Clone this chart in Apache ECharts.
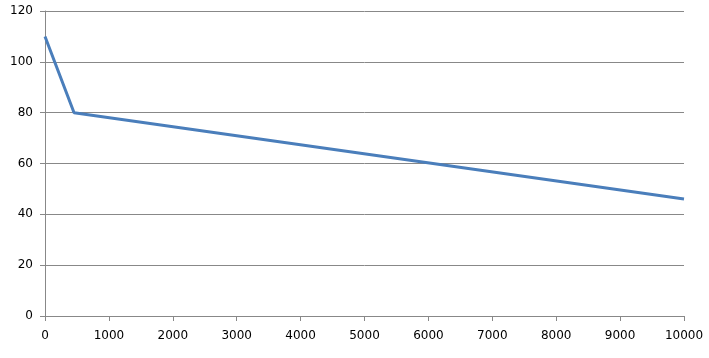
<!DOCTYPE html>
<html>
<head>
<meta charset="utf-8">
<script src="https://cdn.jsdelivr.net/npm/echarts@6/dist/echarts.min.js"></script>
<style>
  html, body { margin: 0; padding: 0; background: #fff; }
  #chart { width: 709px; height: 358px; }
</style>
</head>
<body>
<div id="chart"></div>
<script>
// 数据点
const xValues = [0, 455, 10000];
const yValues = [110, 80, 46];

const chart = echarts.init(document.getElementById('chart'));

const option = {
    animation: false,
    grid: {
        left: 45,
        right: 25,
        top: 11,
        bottom: 42
    },
    xAxis: {
        type: 'value',
        min: 0,
        max: 10000,
        interval: 1000,
        axisLine: { lineStyle: { color: '#888', width: 1 } },
        axisTick: { show: true, length: 5, lineStyle: { color: '#888' } },
        axisLabel: {
            color: '#000', fontSize: 12, fontFamily: 'DejaVu Sans', margin: 14,
            formatter: v => String(v)
        },
        splitLine: { show: false }
    },
    yAxis: {
        type: 'value',
        min: 0,
        max: 120,
        interval: 20,
        axisLine: { show: true, lineStyle: { color: '#888', width: 1 } },
        axisTick: { show: true, length: 5, lineStyle: { color: '#888' } },
        axisLabel: { color: '#000', fontSize: 12, fontFamily: 'DejaVu Sans', margin: 12 },
        splitLine: { lineStyle: { color: '#888', width: 1 } }
    },
    series: [{
        type: 'line',
        data: xValues.map((x, i) => [x, yValues[i]]),
        showSymbol: false,
        lineStyle: { color: '#4a7ebb', width: 3 }
    }]
};

chart.setOption(option);
</script>
</body>
</html>
